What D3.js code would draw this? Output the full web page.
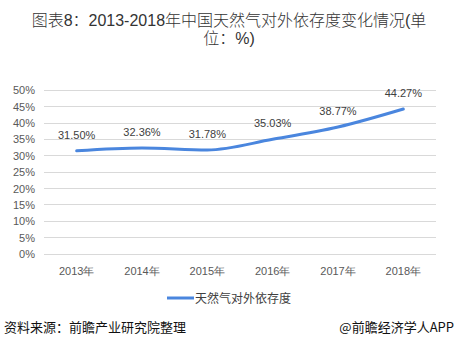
<!DOCTYPE html>
<html><head><meta charset="utf-8">
<script src="https://cdn.jsdelivr.net/npm/d3@7/dist/d3.min.js"></script>
<style>body{margin:0;background:#fff;}svg{display:block;font-family:"Noto Sans CJK SC",sans-serif;}</style>
</head><body>
<svg id="c" width="456" height="349"></svg>
<script>
const categories = ["2013年","2014年","2015年","2016年","2017年","2018年"];
const values = [31.50, 32.36, 31.78, 35.03, 38.77, 44.27];
const yTicks = [0,5,10,15,20,25,30,35,40,45,50];
const seriesName = "天然气对外依存度";

const svg = d3.select("#c");
const x = d3.scaleBand().domain(categories).range([44, 436]);
const y = d3.scaleLinear().domain([0, 50]).range([254, 90.3]);

const titleFont = "'Liberation Sans', Arial, 'Noto Sans CJK SC', sans-serif";
svg.append("text").attr("x", 229).attr("y", 26).attr("text-anchor","middle").attr("font-family", titleFont)
  .attr("font-size", 16).attr("fill","#333").attr("font-weight",300).text("图表8：2013-2018年中国天然气对外依存度变化情况(单");
svg.append("text").attr("x", 229).attr("y", 44).attr("text-anchor","middle").attr("font-family", titleFont)
  .attr("font-size", 16).attr("fill","#333").attr("font-weight",300).text("位：%)");

// grid
svg.append("g").selectAll("line").data(yTicks).join("line")
  .attr("x1", 44).attr("x2", 436).attr("y1", d=>y(d)).attr("y2", d=>y(d))
  .attr("stroke", "#d9d9d9").attr("stroke-width", 1).attr("shape-rendering","crispEdges");

const yAxis = d3.axisLeft(y).tickValues(yTicks).tickFormat(d=>d+"%").tickSize(0).tickPadding(4);
const gy = svg.append("g").attr("transform","translate(39,0)").call(yAxis);
gy.select(".domain").remove();
gy.selectAll("text").attr("font-size", 11).attr("fill","#595959").attr("font-family","Arial, 'Liberation Sans', sans-serif");

const xAxis = d3.axisBottom(x).tickSize(0).tickPadding(11);
const gx = svg.append("g").attr("transform","translate(0,256)").call(xAxis);
gx.select(".domain").remove();
gx.selectAll("text").attr("font-size", 11).attr("fill","#595959");

const cx = d => x(d) + x.bandwidth()/2;
const line = d3.line().x((d,i)=>cx(categories[i])).y(d=>y(d)).curve(d3.curveMonotoneX);
svg.append("path").datum(values).attr("d", line).attr("fill","none")
  .attr("stroke","#4a86de").attr("stroke-width", 3).attr("stroke-linecap","round");

svg.append("g").selectAll("text").data(values).join("text")
  .attr("x",(d,i)=>cx(categories[i])).attr("y", d=>y(d)-12)
  .attr("text-anchor","middle").attr("font-size", 11).attr("fill","#404040")
  .attr("font-family","Arial, 'Liberation Sans', sans-serif")
  .text(d=>d.toFixed(2)+"%");

// legend
svg.append("line").attr("x1",167).attr("x2",194).attr("y1",298).attr("y2",298)
  .attr("stroke","#4a86de").attr("stroke-width",3);
svg.append("text").attr("x",195).attr("y",303).attr("font-size",12).attr("fill","#404040").text(seriesName);

// footer
svg.append("text").attr("x",4).attr("y",332).attr("font-size",13).attr("fill","#111").text("资料来源：前瞻产业研究院整理");
svg.append("text").attr("x",454).attr("y",332).attr("text-anchor","end").attr("font-size",13).attr("fill","#111").text("@前瞻经济学人APP");
</script>
</body></html>
